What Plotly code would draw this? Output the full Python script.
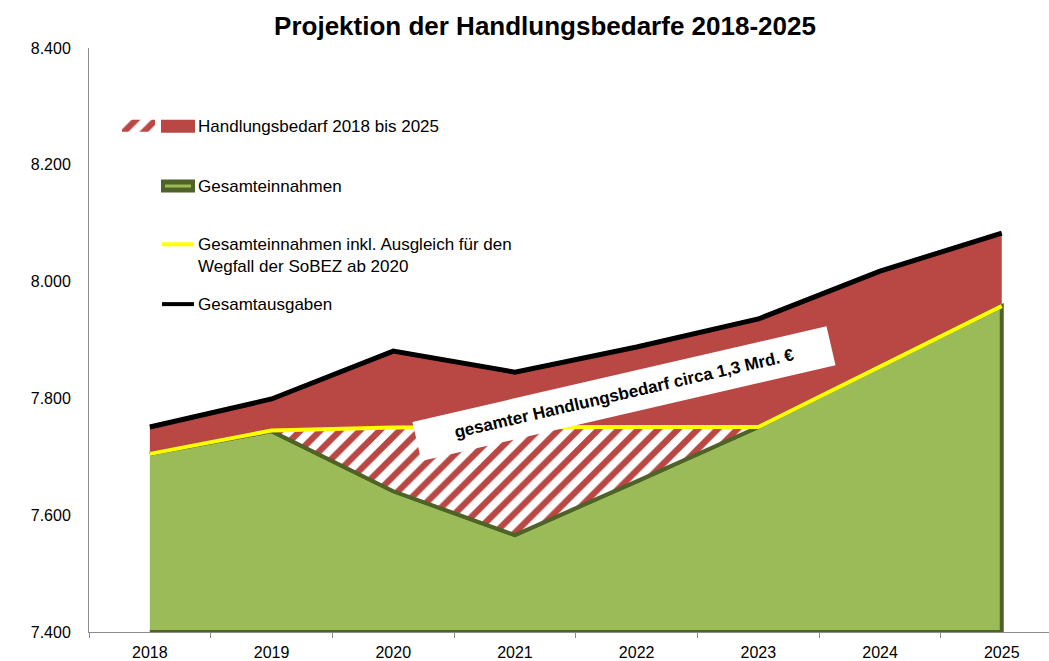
import plotly.graph_objects as go

# ---------------- data (Mio. €) ----------------
years = ["2018", "2019", "2020", "2021", "2022", "2023", "2024", "2025"]
gesamteinnahmen = [7705, 7744, 7641, 7566, 7658, 7751, 7855, 7958]
einnahmen_inkl_ausgleich = [7705, 7745, 7750, 7751, 7751, 7751, 7855, 7958]
gesamtausgaben = [7751, 7799, 7881, 7845, 7888, 7936, 8018, 8083]

y_ticks = [7400, 7600, 7800, 8000, 8200, 8400]
Y_MIN, Y_MAX = 7400, 8400

RED = "#B94744"
GREEN = "#9BBB59"
DKGREEN = "#4F6228"
YELLOW = "#FFFF00"
FONT = "Liberation Sans, Arial, sans-serif"
HATCH = dict(shape="/", fgcolor=RED, bgcolor="white", size=14, solidity=0.45,
             fgopacity=1, fillmode="replace")

fig = go.Figure()

# green area (closed polygon down to axis minimum, border on top/right/bottom)
fig.add_trace(go.Scatter(
    x=years + [years[-1], years[0]],
    y=gesamteinnahmen + [Y_MIN, Y_MIN],
    mode="lines", fill="toself", fillcolor=GREEN,
    line=dict(color=DKGREEN, width=4), showlegend=False, hoverinfo="skip"))

# invisible base for hatched area
fig.add_trace(go.Scatter(x=years, y=gesamteinnahmen, mode="lines",
                         line=dict(width=0, color=DKGREEN), showlegend=False, hoverinfo="skip"))
# hatched area: Gesamteinnahmen -> inkl. Ausgleich
fig.add_trace(go.Scatter(x=years, y=einnahmen_inkl_ausgleich, mode="lines", fill="tonexty",
                         fillcolor="white", fillpattern=HATCH,
                         line=dict(width=0, color=RED), showlegend=False, hoverinfo="skip"))
# solid red area: inkl. Ausgleich -> Gesamtausgaben
fig.add_trace(go.Scatter(x=years, y=gesamtausgaben, mode="lines", fill="tonexty",
                         fillcolor=RED, line=dict(width=0, color=RED),
                         showlegend=False, hoverinfo="skip"))
# green top line again (above fills)
fig.add_trace(go.Scatter(x=years, y=gesamteinnahmen, mode="lines",
                         line=dict(color=DKGREEN, width=4), showlegend=False))
# yellow line
fig.add_trace(go.Scatter(x=years, y=einnahmen_inkl_ausgleich, mode="lines",
                         line=dict(color=YELLOW, width=4), showlegend=False))
# black line
fig.add_trace(go.Scatter(x=years, y=gesamtausgaben, mode="lines",
                         line=dict(color="black", width=5), showlegend=False))

# ---------------- custom legend on a pixel-space overlay axis ----------------
L, R, T, B = 89, 0, 48, 27
W, H = 1049, 661

fig.add_trace(go.Scatter(
    x=[122, 155, 155, 122, 122], y=[120, 120, 132, 132, 120],
    xaxis="x2", yaxis="y2", mode="lines", fill="toself", fillcolor="white",
    fillpattern=HATCH, line=dict(width=0), showlegend=False, hoverinfo="skip"))

shapes = [
    dict(type="rect", xref="x2", yref="y2", x0=161, x1=195, y0=120, y1=133,
         fillcolor=RED, line=dict(width=0)),
    dict(type="rect", xref="x2", yref="y2", x0=161, x1=195, y0=180, y1=193,
         fillcolor=DKGREEN, line=dict(width=0)),
    dict(type="line", xref="x2", yref="y2", x0=165, x1=191, y0=186.5, y1=186.5,
         line=dict(color=GREEN, width=3)),
    dict(type="line", xref="x2", yref="y2", x0=162, x1=194, y0=245, y1=245,
         line=dict(color=YELLOW, width=4)),
    dict(type="line", xref="x2", yref="y2", x0=162, x1=194, y0=305, y1=305,
         line=dict(color="black", width=4)),
]

legend_texts = [
    ("Handlungsbedarf 2018 bis 2025", 127),
    ("Gesamteinnahmen", 187),
    ("Gesamteinnahmen inkl. Ausgleich für den<br>Wegfall der SoBEZ ab 2020", 256),
    ("Gesamtausgaben", 305),
]
annotations = []
for txt, yy in legend_texts:
    annotations.append(dict(text=txt, xref="x2", yref="y2", x=196, y=yy,
                            xanchor="left", yanchor="middle", showarrow=False,
                            align="left", font=dict(family=FONT, size=17, color="black")))

# y-axis unit label
annotations.append(dict(text="Mio. €", xref="x2", yref="y2", x=11, y=340,
                        xanchor="left", yanchor="middle", showarrow=False,
                        font=dict(family=FONT, size=17, color="black")))

# rotated box annotation
annotations.append(dict(
    text="\u00a0" * 6 + "gesamter Handlungsbedarf circa 1,3 Mrd. €" + "\u00a0" * 6,
    x=3.9, y=7808, xref="x", yref="y", showarrow=False, textangle=-13,
    bgcolor="white", borderpad=10,
    font=dict(family=FONT, size=17, color="black", weight="bold")))

fig.update_layout(
    width=W, height=H,
    margin=dict(l=L, r=R, t=T, b=B),
    paper_bgcolor="white", plot_bgcolor="white",
    separators=",.",
    title=dict(text="<b>Projektion der Handlungsbedarfe 2018-2025</b>",
               x=545 / W, xanchor="center", y=1 - 26 / H, yanchor="middle",
               font=dict(family=FONT, size=26, color="black")),
    xaxis=dict(type="category", range=[-0.5, -0.5 + (W - L - R) / 121.7],
               showgrid=False, zeroline=False, showline=True, linecolor="#8C8C8C", linewidth=1,
               ticks="outside", tickson="boundaries", ticklen=5, tickcolor="#8C8C8C",
               tickfont=dict(family=FONT, size=16, color="black"), ticklabelstandoff=6),
    yaxis=dict(range=[Y_MIN, Y_MAX], tickvals=y_ticks, tickformat=",d",
               showgrid=False, zeroline=False, showline=True, linecolor="#8C8C8C", linewidth=1,
               ticks="", tickfont=dict(family=FONT, size=16, color="black"),
               ticklabelstandoff=14),
    xaxis2=dict(overlaying="x", range=[L, W - R], visible=False, fixedrange=True),
    yaxis2=dict(overlaying="y", range=[H - B, T], visible=False, fixedrange=True),
    shapes=shapes, annotations=annotations,
    showlegend=False,
)

fig.write_html("out.html", config={"displayModeBar": False},
               post_script="document.body.style.margin='0px';document.body.style.overflow='hidden';")
